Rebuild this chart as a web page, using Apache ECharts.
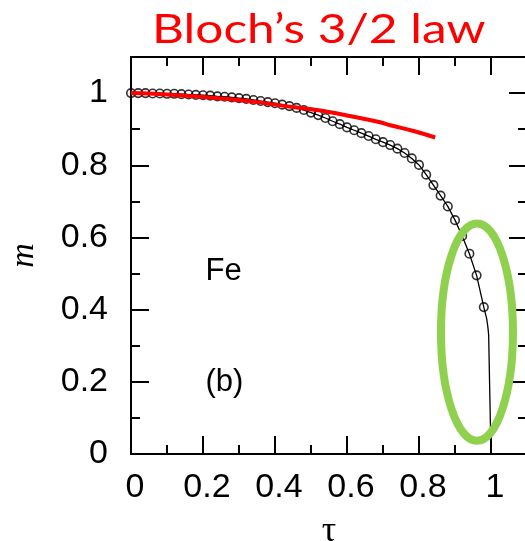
<!DOCTYPE html>
<html><head><meta charset="utf-8">
<script src="https://cdn.jsdelivr.net/npm/echarts@6/dist/echarts.min.js"></script>
<style>html,body{margin:0;padding:0;background:#fff}#c{width:525px;height:541px}</style>
</head><body><div id="c"></div>
<script>
// calculated magnetization (circles), tau step 0.02
const tau = [0.00,0.02,0.04,0.06,0.08,0.10,0.12,0.14,0.16,0.18,0.20,0.22,0.24,0.26,0.28,0.30,0.32,0.34,0.36,0.38,0.40,0.42,0.44,0.46,0.48,0.50,0.52,0.54,0.56,0.58,0.60,0.62,0.64,0.66,0.68,0.70,0.72,0.74,0.76,0.78,0.80,0.82,0.84,0.86,0.88,0.90,0.92,0.94,0.96,0.98];
const mCalc = [1.000,1.000,1.000,0.999,0.999,0.998,0.998,0.997,0.996,0.995,0.994,0.993,0.991,0.990,0.988,0.986,0.984,0.981,0.978,0.975,0.972,0.968,0.964,0.959,0.953,0.946,0.939,0.931,0.922,0.914,0.905,0.897,0.889,0.881,0.872,0.864,0.856,0.846,0.834,0.819,0.801,0.774,0.745,0.716,0.686,0.648,0.604,0.555,0.495,0.407];
// continuation of the curve to the Curie point (no symbols)
const tailTau = [0.988,0.9915,0.9935,0.996,0.998,1.0];
const tailM = [0.375,0.350,0.330,0.200,0.100,0.0];
// Bloch's 3/2 law curve
const blochTau = [0.0,0.1,0.2,0.276,0.35,0.415,0.5,0.553,0.6,0.692,0.72,0.785,0.845];
const blochM = [1.0,0.996,0.989,0.983,0.975,0.966,0.955,0.947,0.938,0.919,0.911,0.895,0.877];
// annotations
const titleText = 'Bloch\u2019s 3/2 law';
const xName = '\u03c4';
const yName = 'm';
const labelFe = 'Fe';
const labelPanel = '(b)';
const ellipseCenter = [0.961, 0.3375];
const ellipseRadii = [0.1, 0.301];

const chart = echarts.init(document.getElementById('c'), null, {renderer:'canvas'});
const circlePts = tau.map((t,i)=>[t,mCalc[i]]);
const linePts = circlePts.concat(tailTau.map((t,i)=>[t,tailM[i]]));
const blochPts = blochTau.map((t,i)=>[t,blochM[i]]);

const lblFont = 'Liberation Sans, Arial, Helvetica, sans-serif';
function axisCommon(showLabel, isX){
  return {
    type:'value', min:0, max:1.1, interval:0.2,
    axisLine:{show:true, onZero:false, lineStyle:{color:'#000', width:2}},
    axisTick:{show:true, inside:true, length:18, lineStyle:{color:'#000', width:2}},
    minorTick:{show:true, splitNumber:2, length:9, lineStyle:{color:'#000', width:2}},
    splitLine:{show:false}, minorSplitLine:{show:false},
    axisLabel:{show:showLabel, color:'#000', fontSize:34, fontFamily:lblFont,
      margin: isX ? 17 : 23,
      padding: isX ? [0,0,0,8] : 0,
      showMinLabel:true, showMaxLabel:false,
      formatter: v => (v > 1.05 ? '' : String(Math.round(v*10)/10))}
  };
}
const xA = Object.assign(axisCommon(true,true), {position:'bottom', name:xName, nameLocation:'middle', nameGap:60,
  nameTextStyle:{fontSize:36, fontFamily:'Liberation Serif, Times New Roman, serif', color:'#000'}});
const xB = Object.assign(axisCommon(false,true), {position:'top'});
const yA = Object.assign(axisCommon(true,false), {position:'left', name:yName, nameLocation:'middle', nameGap:90, nameRotate:90,
  nameTextStyle:{fontSize:34, fontStyle:'italic', fontFamily:'Liberation Serif, Times New Roman, serif', color:'#000'}});
const yB = Object.assign(axisCommon(false,false), {position:'right'});

chart.setOption({
  animation:false,
  backgroundColor:'#fff',
  grid:{left:131, top:57, width:396, height:397, containLabel:false, outerBoundsMode:'none'},
  xAxis:[xA, xB],
  yAxis:[yA, yB],
  series:[
    {type:'line', data:linePts, showSymbol:false, symbol:'none', lineStyle:{color:'#000', width:1.3}, z:2},
    {type:'scatter', data:circlePts, symbol:'circle', symbolSize:8.5,
      itemStyle:{color:'rgba(255,255,255,0)', borderColor:'#000', borderWidth:1.6}, z:3},
    {type:'line', data:blochPts, smooth:true, showSymbol:false, symbol:'none', lineStyle:{color:'#ff0000', width:4}, z:4}
  ]
});

const c = chart.convertToPixel({gridIndex:0}, ellipseCenter);
const e = chart.convertToPixel({gridIndex:0}, [ellipseCenter[0]+ellipseRadii[0], ellipseCenter[1]+ellipseRadii[1]]);
const fePos = chart.convertToPixel({gridIndex:0}, [0.207, 0.464]);
const bPos = chart.convertToPixel({gridIndex:0}, [0.207, 0.197]);
chart.setOption({
  graphic:[
    {type:'text', x:152, y:10, scaleX:1.24, style:{text:titleText, fontSize:40, fontFamily:'Lato, Noto Sans, sans-serif', fill:'#ff0000', verticalAlign:'top'}},
    {type:'ellipse', shape:{cx:c[0], cy:c[1], rx:e[0]-c[0], ry:c[1]-e[1]}, style:{fill:null, stroke:'#8fd14f', lineWidth:8}, z:10},
    {type:'text', x:fePos[0], y:fePos[1], style:{text:labelFe, fontSize:31, fontFamily:lblFont, fill:'#000', textVerticalAlign:'bottom', verticalAlign:'bottom'}},
    {type:'text', x:bPos[0], y:bPos[1], style:{text:labelPanel, fontSize:31, fontFamily:lblFont, fill:'#000', verticalAlign:'middle', textVerticalAlign:'middle'}}
  ]
});
</script></body></html>
